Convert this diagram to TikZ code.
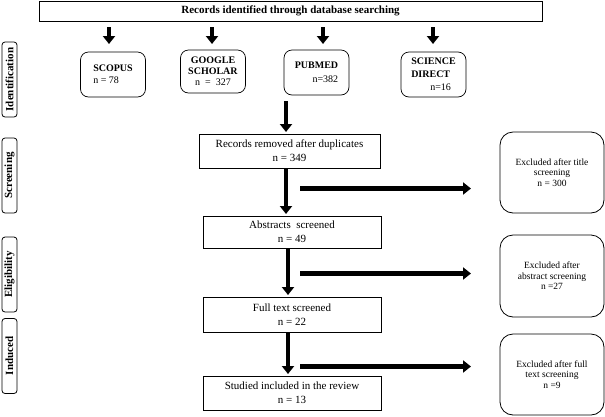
\documentclass[tikz,border=0pt]{standalone}
\usepackage{fontspec}
\setmainfont{Liberation Serif}
\usetikzlibrary{arrows.meta}
\begin{document}
\begin{tikzpicture}[x=1pt,y=-1pt,
  topbox/.style={draw, line width=0.7pt, minimum width=503pt, minimum height=20pt, inner sep=0pt, font=\bfseries\fontsize{11}{13}\selectfont},
  dbbox/.style={draw, rounded corners=8pt, line width=0.7pt, minimum width=65pt, minimum height=45pt, inner sep=0pt, font=\fontsize{10}{12}\selectfont},
  mainbox/.style={draw, line width=0.6pt, minimum width=178pt, minimum height=34pt, inner sep=0pt, align=center, font=\fontsize{11}{14}\selectfont},
  exbox/.style={draw, rounded corners=13pt, line width=0.8pt, minimum width=104pt, minimum height=81pt, inner sep=0pt, align=center, font=\fontsize{9.5}{10.5}\selectfont},
  stage/.style={draw, rounded corners=3pt, line width=0.8pt, rotate=90, minimum width=75pt, minimum height=15pt, inner sep=0pt, font=\bfseries\fontsize{11}{13}\selectfont},
  bigarrow/.style={line width=4.5pt, -{Triangle[width=12pt,length=8pt]}}
]
\useasboundingbox (0,0) rectangle (605,416);

% top box
\node[topbox] (top) at (290.5,11) {Records identified through database searching};

% database boxes
\node[dbbox, align=left] (scopus) at (113,74.5) {\textbf{SCOPUS}\\n = 78};
\node[dbbox, align=center, minimum height=43pt, font=\fontsize{10}{11}\selectfont] (google) at (213,71.5) {\textbf{GOOGLE}\\\textbf{SCHOLAR}\\n\ \ =\ \ 327};
\node[dbbox, align=right, font=\fontsize{10}{14}\selectfont] (pubmed) at (316.5,72.5) {\textbf{PUBMED}\\n=382};
\node[dbbox, align=left, font=\fontsize{10}{13}\selectfont] (science) at (433.5,74.5) {\textbf{SCIENCE}\\\textbf{DIRECT}\\\hspace*{19pt}n=16};

% stage labels
\node[stage] (s1) at (9.5,79.5) {Identification};
\node[stage] (s2) at (9.5,175.5) {Screening};
\node[stage] (s3) at (9.5,274.5) {Eligibility};
\node[stage] (s4) at (9.5,356) {Induced};

% main flow boxes
\node[mainbox, minimum width=181pt] (rem) at (289.5,151) {Records removed after duplicates\\n = 349};
\node[mainbox, minimum height=32pt] (abs) at (292,232) {Abstracts\ \ screened\\n = 49};
\node[mainbox, minimum height=35pt] (full) at (292,314.5) {Full text screened\\n = 22};
\node[mainbox] (stud) at (292,393) {Studied included in the review\\n = 13};

% excluded boxes
\node[exbox] (ex1) at (552,172.5) {Excluded after title\\screening\\n = 300};
\node[exbox, minimum height=82pt] (ex2) at (552,276) {Excluded after\\abstract screening\\n =27};
\node[exbox] (ex3) at (552,374.5) {Excluded after full\\text screening\\n =9};

% arrow end points
\coordinate (a1s) at (109,27);  \coordinate (a1e) at (109,44);
\coordinate (a2s) at (212,27);  \coordinate (a2e) at (212,44);
\coordinate (a3s) at (323,27);  \coordinate (a3e) at (323,44);
\coordinate (a4s) at (433,27);  \coordinate (a4e) at (433,44);
\coordinate (v1s) at (286,101); \coordinate (v1e) at (286,132);
\coordinate (v2s) at (286,169); \coordinate (v2e) at (286,214);
\coordinate (v3s) at (288,249); \coordinate (v3e) at (288,295);
\coordinate (v4s) at (288,333); \coordinate (v4e) at (288,374);
\coordinate (h1s) at (300,188.5); \coordinate (h1e) at (471,188.5);
\coordinate (h2s) at (300,273.5); \coordinate (h2e) at (471,273.5);
\coordinate (h3s) at (300,366.5); \coordinate (h3e) at (471,366.5);

\draw[bigarrow] (a1s) -- (a1e);
\draw[bigarrow] (a2s) -- (a2e);
\draw[bigarrow] (a3s) -- (a3e);
\draw[bigarrow] (a4s) -- (a4e);
\draw[bigarrow] (v1s) -- (v1e);
\draw[bigarrow] (v2s) -- (v2e);
\draw[bigarrow] (v3s) -- (v3e);
\draw[bigarrow] (v4s) -- (v4e);
\draw[bigarrow] (h1s) -- (h1e);
\draw[bigarrow] (h2s) -- (h2e);
\draw[bigarrow] (h3s) -- (h3e);
\end{tikzpicture}
\end{document}
